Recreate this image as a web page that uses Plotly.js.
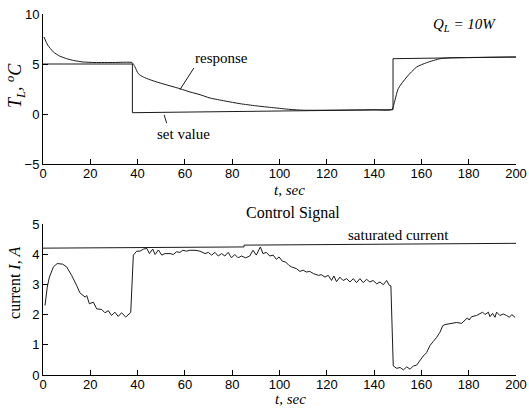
<!DOCTYPE html>
<html>
<head>
<meta charset="utf-8">
<script src="https://cdn.plot.ly/plotly-3.0.1.min.js"></script>
<style>html,body{margin:0;padding:0;background:#fff;}#chart{width:529px;height:416px;}</style>
</head>
<body>
<div id="chart"></div>
<script>
// ---- data ----
var setX = [0, 37.8, 37.8, 148, 148, 200];
var setY = [5.0, 5.0, 0.13, 0.43, 5.53, 5.7];

var respX = [0.4, 2, 4.4, 7, 10, 13, 17, 22, 30, 37.6, 38.2, 38.9, 40.3, 42.4, 45.2, 49.5, 57.9, 62.2, 66.4, 70.6, 77, 83.3, 90, 97.4, 104.4, 110, 120, 130, 140, 147.5, 148.8, 150.2, 153.8, 158, 162.2, 167.9, 172, 180, 190, 200];
var respY = [7.7, 6.9, 6.2, 5.8, 5.53, 5.35, 5.2, 5.15, 5.15, 5.15, 5.0, 4.7, 4.03, 3.7, 3.43, 3.1, 2.53, 2.2, 1.93, 1.6, 1.3, 1.03, 0.82, 0.63, 0.46, 0.38, 0.38, 0.4, 0.42, 0.45, 1.36, 2.53, 3.7, 4.7, 5.13, 5.53, 5.62, 5.65, 5.68, 5.7];

var satX = [0, 85, 85, 200];
var satY = [4.2, 4.24, 4.3, 4.36];

var curX = [0.85, 1.8, 2.7, 4.4, 6, 8.3, 10, 12.1, 14.2, 15.6, 17.8, 18.5, 19.6, 21.3, 22.7, 24.8, 26.2, 27.6, 29.0, 30.4, 31.8, 33.2, 35, 36.4, 37.1,
  38.2, 39.6, 41, 42.5, 43.9, 45, 46.4, 47.4, 48.8, 50.2, 51.6, 53.7, 55.1, 56.5, 57.9, 59.1, 60.7, 62.1, 64.3, 66.4, 68.5, 69.9, 71.3, 72.7, 74.1, 75.5, 76.9, 78.3, 79.7, 81.1, 82.5, 83.9, 85.7, 87.4, 88.8, 90.2, 91.9, 93.0, 94.4, 95.9, 97.3, 98.7, 99.8, 101.2, 102.6, 104,
  105.1, 107.2, 108.6, 110, 111.4, 112.8, 114.3, 116.4, 117.8, 119.2, 120.6, 122, 123, 124.1, 125.5, 126.9, 128.4, 129.8, 131.2, 132.6, 134, 135.4, 136.8, 138.2, 139.6, 141.1, 142.5, 143.9, 145.3, 146.4, 147.1,
  148.1, 149.6, 151, 152.4, 153.8, 155.2, 156.6, 158, 159.4, 160.8, 162.2, 163.6, 165, 166.4, 167.8, 169, 170, 172, 173.5, 174.9, 177, 178.4, 179.4, 180.2, 181.2, 183.3, 184.7, 185.9, 186.9, 188.3, 189, 190.1, 191.1, 191.8, 193.2, 194.6, 196, 197.2, 198.2, 199.6];
var curY = [2.3, 2.91, 3.24, 3.58, 3.69, 3.67, 3.58, 3.3, 2.97, 2.72, 2.58, 2.63, 2.36, 2.41, 2.19, 2.17, 2.06, 2.13, 1.97, 2.08, 1.94, 2.06, 1.92, 2.03, 2.07,
  3.97, 4.1, 4.1, 4.17, 4.19, 4.02, 4.17, 3.99, 4.14, 3.97, 4.02, 4.02, 3.99, 4.08, 4.06, 4.13, 4.1, 4.13, 4.13, 4.1, 4.02, 4.06, 3.97, 4.06, 3.94, 4.02, 3.94, 4.06, 3.88, 3.99, 3.88, 3.94, 3.88, 3.94, 4.13, 3.97, 4.24, 4.02, 4.06, 3.94, 3.97, 3.83, 3.91, 3.77, 3.74, 3.63,
  3.58, 3.52, 3.43, 3.47, 3.41, 3.43, 3.36, 3.3, 3.32, 3.24, 3.3, 3.13, 3.28, 3.09, 3.24, 3.13, 3.19, 3.08, 3.19, 3.06, 3.19, 3.06, 3.17, 3.08, 3.13, 3.02, 3.08, 2.99, 3.13, 2.97, 2.95,
  0.3, 0.22, 0.25, 0.17, 0.27, 0.19, 0.3, 0.33, 0.49, 0.63, 0.74, 0.97, 1.11, 1.24, 1.41, 1.63, 1.67, 1.69, 1.72, 1.74, 1.71, 1.82, 1.89, 1.82, 1.93, 1.97, 2.02, 2.08, 2.0, 2.08, 1.93, 2.04, 1.91, 2.08, 1.97, 2.02, 1.97, 1.91, 2.0, 1.91];

var xTicks = [0, 20, 40, 60, 80, 100, 120, 140, 160, 180, 200];
var yTopTicks = [-5, 0, 5, 10];
var yBotTicks = [0, 1, 2, 3, 4, 5];

// ---- chart ----
var lineStyle = {color: '#1a1a1a', width: 1};
var traces = [
  {x: setX, y: setY, xaxis: 'x', yaxis: 'y', mode: 'lines', line: lineStyle, hoverinfo: 'skip'},
  {x: respX, y: respY, xaxis: 'x', yaxis: 'y', mode: 'lines', line: {color: '#1a1a1a', width: 1, shape: 'spline', smoothing: 0.6}, hoverinfo: 'skip'},
  {x: satX, y: satY, xaxis: 'x2', yaxis: 'y2', mode: 'lines', line: lineStyle, hoverinfo: 'skip'},
  {x: curX, y: curY, xaxis: 'x2', yaxis: 'y2', mode: 'lines', line: lineStyle, hoverinfo: 'skip'}
];

var tickFont = {family: 'Liberation Sans, Arial, sans-serif', size: 13, color: '#000'};
var serif = 'Liberation Serif, Times New Roman, serif';

function xAxis(anchor) {
  return {range: [0, 200], tickvals: xTicks, ticks: 'inside', ticklen: 5, tickcolor: '#000',
    showline: true, linecolor: '#000', linewidth: 1, showgrid: false, zeroline: false,
    tickfont: tickFont, ticklabelstandoff: -3, anchor: anchor, fixedrange: true};
}
function yAxis(range, vals, domain, anchor) {
  return {range: range, tickvals: vals, ticks: 'inside', ticklen: 5, tickcolor: '#000',
    showline: true, linecolor: '#000', linewidth: 1, showgrid: false, zeroline: false,
    tickfont: tickFont, domain: domain, anchor: anchor, fixedrange: true};
}

function note(xref, yref, x, y, text, size, angle) {
  return {xref: xref, yref: yref, x: x, y: y, text: text, showarrow: false,
    xanchor: 'center', yanchor: 'middle', textangle: angle || 0,
    font: {family: serif, size: size, color: '#000'}};
}

var layout = {
  width: 529, height: 416,
  margin: {l: 43, r: 13, t: 14, b: 41},
  paper_bgcolor: '#fff', plot_bgcolor: '#fff',
  showlegend: false,
  xaxis: xAxis('y'),
  yaxis: yAxis([-5, 10], yTopTicks, [0.5845, 1], 'x'),
  xaxis2: xAxis('y2'),
  yaxis2: yAxis([0, 5], yBotTicks, [0, 0.4183], 'x2'),
  shapes: [
    {type: 'line', xref: 'x', yref: 'y', x0: 63.8, y0: 4.6, x1: 57.9, y1: 2.43, line: {color: '#1a1a1a', width: 1}},
    {type: 'line', xref: 'x', yref: 'y', x0: 51.2, y0: -0.08, x1: 52.3, y1: -0.92, line: {color: '#1a1a1a', width: 1}}
  ],
  annotations: [
    note('x', 'y', 75.3, 5.64, 'response', 15),
    note('x', 'y', 59.4, -1.99, 'set value', 15),
    note('x', 'y', 178.4, 8.95, '<i>Q<sub>L</sub> = 10W</i>', 15),
    note('paper', 'paper', 0.522, 0.512, '<i>t, sec</i>', 15),
    note('paper', 'paper', 0.524, -0.066, '<i>t, sec</i>', 15),
    note('paper', 'paper', 0.5285, 0.449, 'Control Signal', 16),
    note('x2', 'y2', 150.5, 4.65, 'saturated current', 15),
    note('paper', 'paper', -0.0592, 0.803, '<i>T<sub>L</sub>, <sup>o</sup>C</i>', 18, -90),
    note('paper', 'paper', -0.0592, 0.255, 'current <i>I, A</i>', 16, -90)
  ]
};

Plotly.newPlot('chart', traces, layout, {displayModeBar: false, staticPlot: true});
</script>
</body>
</html>
